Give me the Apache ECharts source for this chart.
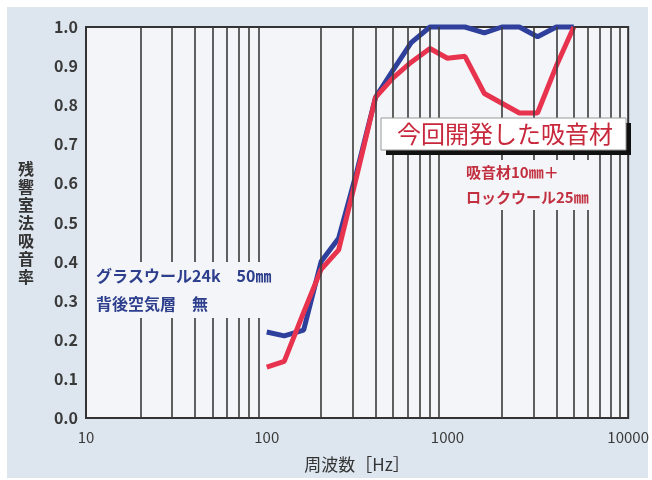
<!DOCTYPE html>
<html><head><meta charset="utf-8">
<script src="https://cdn.jsdelivr.net/npm/echarts@6/dist/echarts.min.js"></script>
<style>html,body{margin:0;padding:0;background:#fff}#c{width:652px;height:480px}</style>
</head><body><div id="c"></div>
<script>
const freqs = [100,125,160,200,250,315,400,500,630,800,1000,1250,1600,2000,2500,3150,4000,5000];
const glassWool = [0.22,0.21,0.225,0.40,0.46,0.63,0.82,0.89,0.96,1.0,1.0,1.0,0.985,1.0,1.0,0.975,1.0,1.0];
const newMaterial = [0.13,0.145,0.27,0.38,0.43,0.62,0.82,0.87,0.91,0.945,0.92,0.925,0.83,0.805,0.78,0.78,0.90,1.0];
const minorFreqs = [20,30,40,50,60,70,80,90,200,300,400,500,600,700,800,900,2000,3000,4000,5000,6000,7000,8000,9000];
const yName = '残響室法吸音率';
const xName = '周波数［Hz］';
const blueLabel = ['グラスウール24k　50㎜','背後空気層　無'];
const redTitle = '今回開発した吸音材';
const redLabel = ['吸音材10㎜＋','ロックウール25㎜'];

const chart = echarts.init(document.getElementById('c'));
const font = '"Noto Sans CJK JP","Noto Sans",sans-serif';
chart.setOption({
  backgroundColor: '#ffffff',
  animation: false,
  textStyle: {fontFamily: font},
  grid: {left: 86, right: 20, top: 27, bottom: 62, show: true, backgroundColor: '#f4f5f8', borderColor: '#333', borderWidth: 2, z: 1},
  xAxis: {
    type: 'log', logBase: 10, min: 10, max: 10000,
    name: xName, nameLocation: 'middle', nameGap: 38,
    nameTextStyle: {color: '#333', fontSize: 17, fontFamily: font},
    axisLine: {show: false}, axisTick: {show: false},
    axisLabel: {color: '#3a3a3a', fontSize: 15, margin: 12, fontFamily: font, formatter: v => String(Math.round(v))},
    splitLine: {show: true, lineStyle: {color: '#333', width: 2}}
  },
  yAxis: {
    type: 'value', min: 0, max: 1, interval: 0.1,
    name: yName.split('').join('\n'), nameLocation: 'middle', nameGap: 52, nameRotate: 0,
    nameTextStyle: {color: '#333', fontSize: 16, lineHeight: 18, fontWeight: 'bold', fontFamily: font},
    axisLine: {show: false}, axisTick: {show: false},
    axisLabel: {color: '#3a3a3a', fontSize: 16, fontWeight: 'bold', margin: 8, formatter: v => v.toFixed(1), fontFamily: font},
    splitLine: {show: true, lineStyle: {color: '#333', width: 2}}
  },
  series: [
    {type: 'line', data: [], silent: true, z: 2,
     markLine: {silent: true, symbol: 'none', label: {show: false}, animation: false,
       lineStyle: {color: '#3a3a3a', width: 1.6, type: 'solid'},
       data: minorFreqs.map(f => ({xAxis: f}))}},
    {name: 'glass', type: 'line', data: freqs.map((f,i) => [f, glassWool[i]]), showSymbol: false, clip: false, z: 3,
     lineStyle: {color: '#2e3f9c', width: 5}},
    {name: 'new', type: 'line', data: freqs.map((f,i) => [f, newMaterial[i]]), showSymbol: false, clip: false, z: 4,
     lineStyle: {color: '#e8334f', width: 5}}
  ],
  graphic: [
    {type: 'rect', z: -10, shape: {x: 7, y: 7, width: 641, height: 471}, style: {fill: '#dde6ef'}},
    {type: 'text', z: 50, left: 94, top: 262, style: {text: blueLabel.join('\n'), fill: '#2d3f8c', font: 'bold 16px ' + font, lineHeight: 28, backgroundColor: '#f4f5f8', padding: [0, 2]}},
    {type: 'rect', z: 50, shape: {x: 386, y: 123, width: 245, height: 32}, style: {fill: '#111'}},
    {type: 'rect', z: 51, shape: {x: 381, y: 118, width: 245, height: 32}, style: {fill: '#ffffff', stroke: '#999', lineWidth: 1}},
    {type: 'text', z: 52, x: 505, y: 134, style: {text: redTitle, fill: '#c8283c', font: '24px ' + font, align: 'center', verticalAlign: 'middle'}},
    {type: 'text', z: 50, left: 464, top: 160, style: {text: redLabel.join('\n'), fill: '#c23040', font: 'bold 15px ' + font, lineHeight: 25, backgroundColor: '#f4f5f8', padding: [0, 2]}}
  ]
});
</script></body></html>
